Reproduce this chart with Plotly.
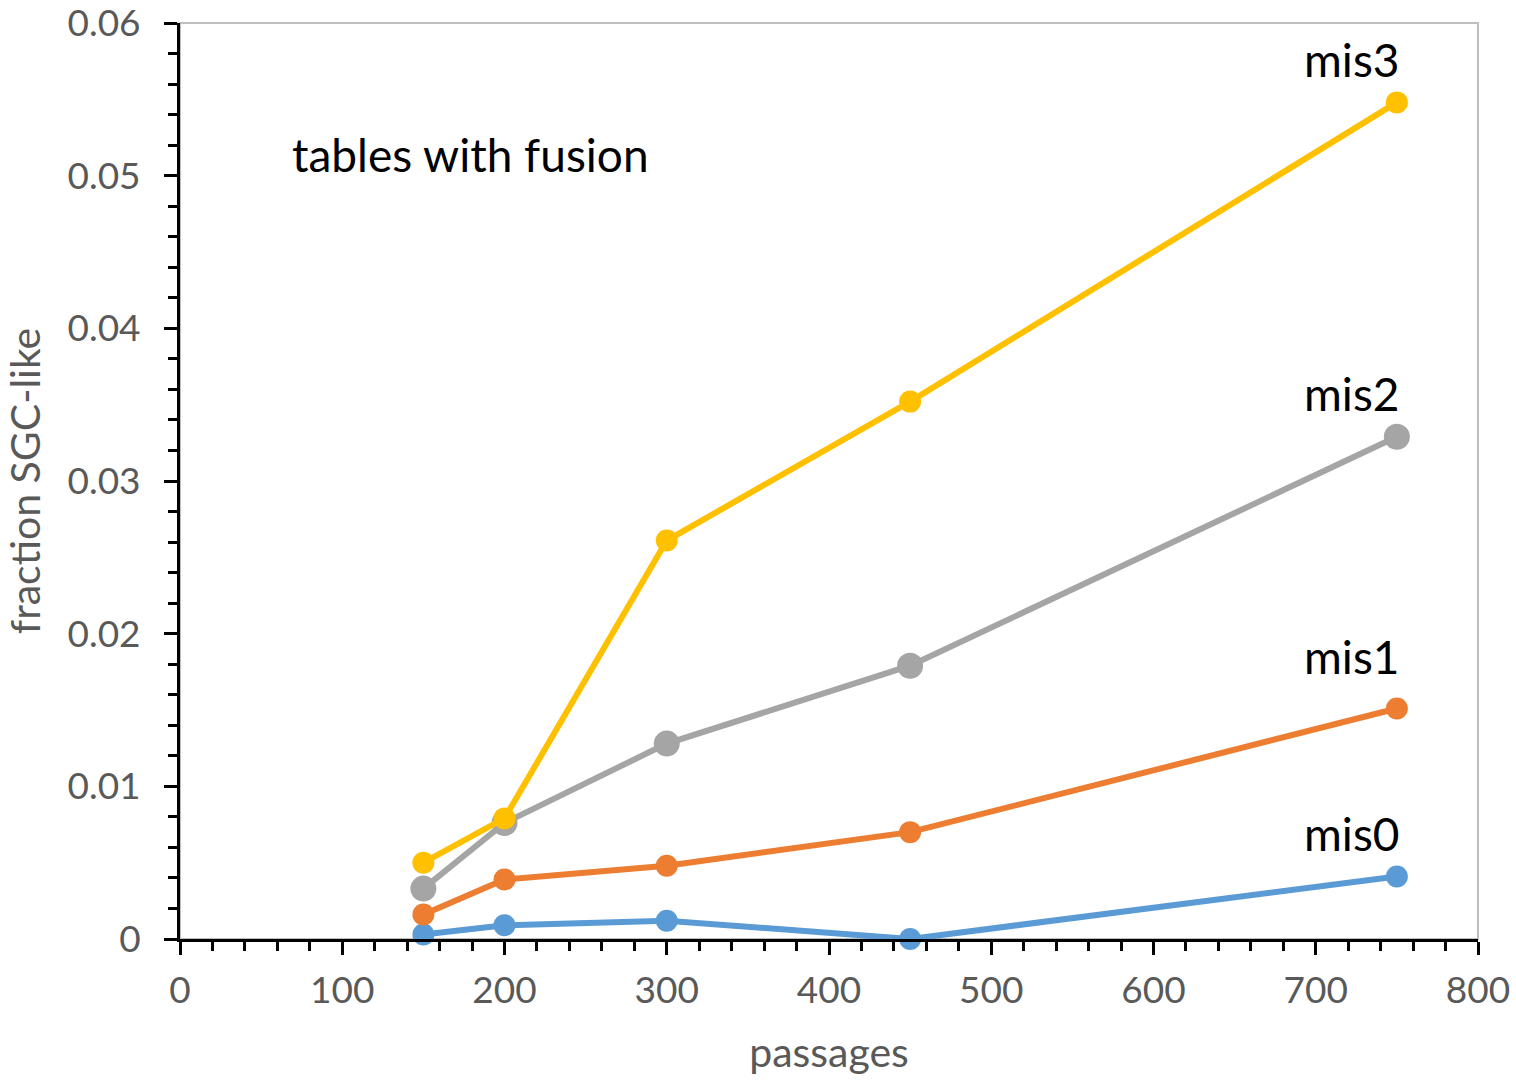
import plotly.graph_objects as go

passages = [150, 200, 300, 450, 750]
mis0 = [0.0003, 0.0009, 0.0012, 0.0000, 0.0041]
mis1 = [0.0016, 0.0039, 0.0048, 0.0070, 0.0151]
mis2 = [0.0033, 0.0076, 0.0128, 0.0179, 0.0329]
mis3 = [0.0050, 0.0079, 0.0261, 0.0352, 0.0548]

y_tickvals = [0, 0.01, 0.02, 0.03, 0.04, 0.05, 0.06]
y_ticktext = ["0", "0.01", "0.02", "0.03", "0.04", "0.05", "0.06"]

series = [
    ("mis0", mis0, "#5B9BD5", 22),
    ("mis1", mis1, "#ED7D31", 22),
    ("mis2", mis2, "#A5A5A5", 26),
    ("mis3", mis3, "#FFC000", 22),
]
labels = [("mis3", 722, 0.0576), ("mis2", 722, 0.0357), ("mis1", 722, 0.0185), ("mis0", 722, 0.0069)]

FONT = "Lato"
fig = go.Figure()
for name, vals, color, msize in series:
    fig.add_trace(go.Scatter(
        x=passages, y=vals, mode="lines+markers", name=name,
        line=dict(color=color, width=6),
        marker=dict(color=color, size=msize),
        cliponaxis=False,
    ))

for text, x, y in labels:
    fig.add_annotation(x=x, y=y, text=text, showarrow=False,
                       font=dict(family=FONT, size=46, color="black"))
fig.add_annotation(x=179, y=0.0514, text="tables with fusion", showarrow=False,
                   font=dict(family=FONT, size=46, color="black"))

fig.add_shape(type="rect", xref="paper", yref="paper", x0=0, y0=0, x1=1, y1=1,
              line=dict(color="#BFBFBF", width=2), layer="below")

fig.update_layout(
    width=1516, height=1086,
    margin=dict(l=180, r=38, t=23, b=147, autoexpand=False),
    plot_bgcolor="white", paper_bgcolor="white",
    showlegend=False,
    font=dict(family=FONT, color="#595959"),
    xaxis=dict(
        range=[0, 800.001], dtick=100, tick0=0, showgrid=False, zeroline=False,
        showline=True, linecolor="black", linewidth=3,
        ticks="outside", ticklen=13, tickwidth=3, tickcolor="black",
        minor=dict(dtick=20, ticks="outside", ticklen=9, tickwidth=3, tickcolor="black"),
        tickfont=dict(family=FONT, size=37, color="#595959"),
        ticklabelstandoff=4, ticklabeloverflow="allow",
        title=dict(text="passages", font=dict(family=FONT, size=41, color="#595959"), standoff=28),
    ),
    yaxis=dict(
        range=[0, 0.0600001], tickvals=y_tickvals, ticktext=y_ticktext, showgrid=False, zeroline=False,
        showline=True, linecolor="black", linewidth=3,
        ticks="outside", ticklen=13, tickwidth=3, tickcolor="black",
        minor=dict(dtick=0.002, ticks="outside", ticklen=9, tickwidth=3, tickcolor="black"),
        tickfont=dict(family=FONT, size=37, color="#595959"),
        ticklabelstandoff=16, ticklabeloverflow="allow",
        title=dict(text="fraction SGC-like", font=dict(family=FONT, size=41, color="#595959"), standoff=16),
    ),
)
fig.write_html("out.html", config={"displayModeBar": False},
               post_script="document.body.style.margin='0';document.body.style.overflow='hidden';")
